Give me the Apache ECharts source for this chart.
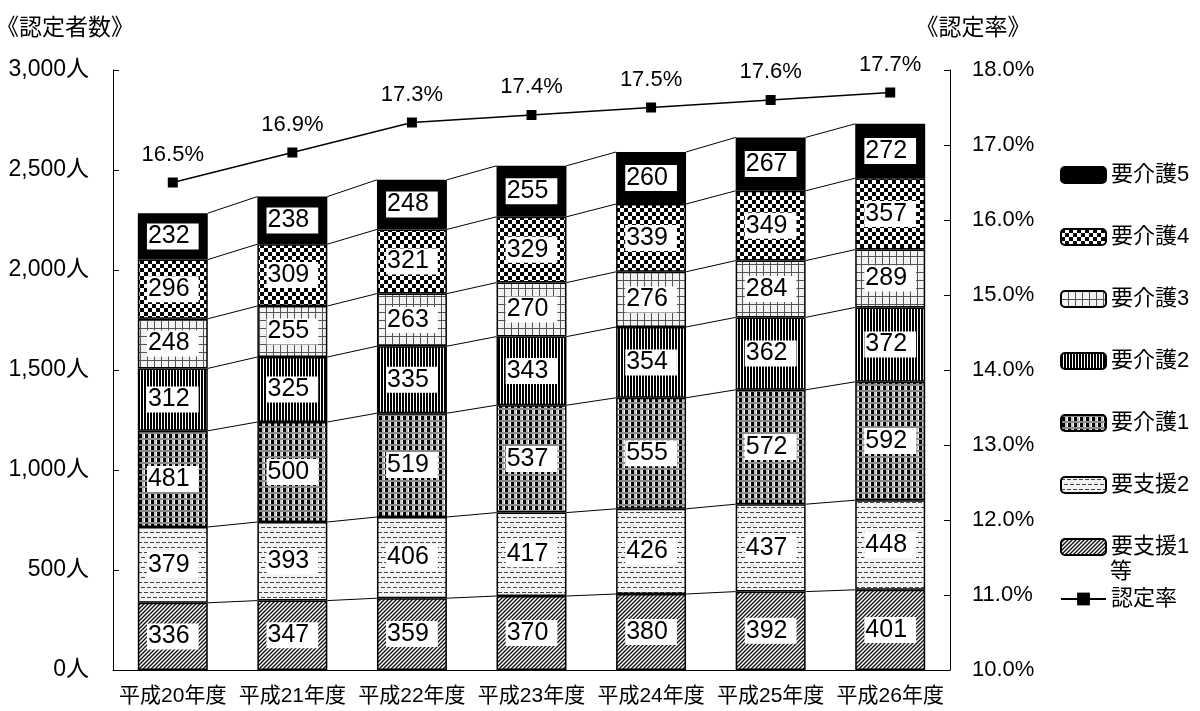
<!DOCTYPE html>
<html>
<head>
<meta charset="utf-8">
<script src="https://cdn.jsdelivr.net/npm/echarts@6/dist/echarts.min.js"></script>
<style>
  html, body { margin: 0; padding: 0; background: #fff; }
  #chart { width: 1200px; height: 711px; }
</style>
</head>
<body>
<div id="chart"></div>
<script>
// 年度
const categories = ['平成20年度', '平成21年度', '平成22年度', '平成23年度', '平成24年度', '平成25年度', '平成26年度'];

// 認定者数（人）
const shien1 = [336, 347, 359, 370, 380, 392, 401];
const shien2 = [379, 393, 406, 417, 426, 437, 448];
const kaigo1 = [481, 500, 519, 537, 555, 572, 592];
const kaigo2 = [312, 325, 335, 343, 354, 362, 372];
const kaigo3 = [248, 255, 263, 270, 276, 284, 289];
const kaigo4 = [296, 309, 321, 329, 339, 349, 357];
const kaigo5 = [232, 238, 248, 255, 260, 267, 272];

// 認定率（％）
const rate = [16.5, 16.9, 17.3, 17.4, 17.5, 17.6, 17.7];

const seriesNames = ['要支援1等', '要支援2', '要介護1', '要介護2', '要介護3', '要介護4', '要介護5'];
const stackValues = [shien1, shien2, kaigo1, kaigo2, kaigo3, kaigo4, kaigo5];

const NUM_FONT = '"Liberation Sans", Arial, "Noto Sans CJK JP", sans-serif';
const JP_FONT = '"Liberation Sans", Arial, "Noto Sans CJK JP", sans-serif';
const BAR_FRAC = 0.585;

// hatch fills drawn on small repeating canvases
function tile(w, h, draw) {
  const c = document.createElement('canvas');
  c.width = w; c.height = h;
  const g = c.getContext('2d');
  draw(g, w, h);
  return { image: c, repeat: 'repeat' };
}

const fills = [
  // 要支援1等: diagonal hatch
  tile(4, 4, (g) => {
    g.fillStyle = '#fff'; g.fillRect(0, 0, 4, 4);
    g.strokeStyle = '#111'; g.lineWidth = 1.4;
    g.beginPath();
    g.moveTo(-1, 5); g.lineTo(5, -1);
    g.moveTo(-1, 1); g.lineTo(1, -1);
    g.moveTo(3, 5); g.lineTo(5, 3);
    g.stroke();
  }),
  // 要支援2: dashed rows on a light ground
  tile(6, 10, (g) => {
    g.fillStyle = '#f3f3f3'; g.fillRect(0, 0, 6, 10);
    g.fillStyle = '#444';
    g.fillRect(0, 2, 4, 1);
    g.fillRect(3, 7, 3, 1); g.fillRect(0, 7, 1, 1);
  }),
  // 要介護1: black squares between grey bands
  tile(6, 6, (g) => {
    g.fillStyle = '#fff'; g.fillRect(0, 0, 6, 6);
    g.fillStyle = '#8a8a8a'; g.fillRect(0, 0, 6, 2);
    g.fillStyle = '#c4c4c4'; g.fillRect(4, 2, 2, 4);
    g.fillStyle = '#000'; g.fillRect(1, 2, 3, 4);
  }),
  // 要介護2: vertical stripes
  tile(3, 3, (g) => {
    g.fillStyle = '#fff'; g.fillRect(0, 0, 3, 3);
    g.fillStyle = '#000'; g.fillRect(0, 0, 2, 3);
  }),
  // 要介護3: thin grid
  tile(7, 8, (g) => {
    g.fillStyle = '#f2f2f2'; g.fillRect(0, 0, 7, 8);
    g.fillStyle = '#555';
    g.fillRect(0, 0, 1, 8);
    g.fillRect(0, 0, 7, 1);
  }),
  // 要介護4: checkerboard
  tile(8, 8, (g) => {
    g.fillStyle = '#fff'; g.fillRect(0, 0, 8, 8);
    g.fillStyle = '#000';
    g.fillRect(0, 0, 4, 4); g.fillRect(4, 4, 4, 4);
  }),
  // 要介護5: solid
  '#000'
];

const barSeries = seriesNames.map((name, k) => ({
  name: name,
  type: 'bar',
  stack: 'total',
  barWidth: (BAR_FRAC * 100) + '%',
  data: stackValues[k],
  itemStyle: { color: fills[k], borderColor: '#000', borderWidth: 1.5 },
  label: {
    show: true,
    position: 'inside',
    color: '#000',
    fontFamily: NUM_FONT,
    fontSize: 25,
    lineHeight: 25,
    backgroundColor: '#fff',
    padding: [1, 9, 0, 1]
  },
  z: 2
}));

// thin lines joining each stack boundary of neighbouring bars
const connectorSeries = {
  type: 'custom',
  silent: true,
  xAxisIndex: 0,
  yAxisIndex: 0,
  z: 3,
  data: categories.slice(0, -1).map((c, i) => [i, 0]),
  renderItem: (params, api) => {
    const i = params.dataIndex;
    const half = api.size([1, 0])[0] * BAR_FRAC / 2;
    const children = [];
    let a = 0, b = 0;
    stackValues.forEach((vals) => {
      a += vals[i]; b += vals[i + 1];
      const p1 = api.coord([i, a]);
      const p2 = api.coord([i + 1, b]);
      children.push({
        type: 'line',
        shape: { x1: p1[0] + half, y1: p1[1], x2: p2[0] - half, y2: p2[1] },
        style: { stroke: '#000', lineWidth: 1 }
      });
    });
    return { type: 'group', children: children };
  }
};

const rateSeries = {
  name: '認定率',
  type: 'line',
  yAxisIndex: 1,
  data: rate,
  symbol: 'rect',
  symbolSize: 10,
  itemStyle: { color: '#000' },
  lineStyle: { color: '#000', width: 1.5 },
  label: {
    show: true,
    position: 'top',
    distance: 12,
    color: '#000',
    fontFamily: NUM_FONT,
    fontSize: 22,
    formatter: (p) => p.value.toFixed(1) + '%'
  },
  z: 5
};

const legendText = { color: '#000', fontFamily: JP_FONT, fontSize: 22, lineHeight: 24 };

const option = {
  animation: false,
  backgroundColor: '#fff',
  grid: { left: 113, right: 250, top: 70, bottom: 41, containLabel: false, outerBoundsMode: 'none' },
  xAxis: {
    type: 'category',
    data: categories,
    boundaryGap: true,
    axisLine: { lineStyle: { color: '#000', width: 1 } },
    axisTick: { inside: true, length: 6, lineStyle: { color: '#000' } },
    axisLabel: { color: '#000', fontFamily: JP_FONT, fontSize: 21, margin: 16, interval: 0 }
  },
  yAxis: [
    {
      type: 'value',
      min: 0, max: 3000, interval: 500,
      name: '《認定者数》',
      nameLocation: 'end',
      nameGap: 30,
      nameTextStyle: { color: '#000', fontFamily: JP_FONT, fontSize: 23, padding: [0, 96, 0, 0] },
      axisLine: { show: true, lineStyle: { color: '#000', width: 1 } },
      axisTick: { show: true, inside: true, length: 6, lineStyle: { color: '#000' } },
      splitLine: { show: false },
      axisLabel: {
        color: '#000', fontFamily: NUM_FONT, fontSize: 23, margin: 24,
        formatter: (v) => v.toLocaleString('en-US') + '人'
      }
    },
    {
      type: 'value',
      min: 10, max: 18, interval: 1,
      name: '《認定率》',
      nameLocation: 'end',
      nameGap: 30,
      nameTextStyle: { color: '#000', fontFamily: JP_FONT, fontSize: 23, padding: [0, 0, 0, 46] },
      axisLine: { show: true, lineStyle: { color: '#000', width: 1 } },
      axisTick: { show: true, inside: true, length: 6, lineStyle: { color: '#000' } },
      splitLine: { show: false },
      axisLabel: {
        color: '#000', fontFamily: NUM_FONT, fontSize: 22, margin: 22,
        formatter: (v) => v.toFixed(1) + '%'
      }
    }
  ],
  legend: [
    {
      orient: 'vertical',
      left: 1055, top: 158,
      itemWidth: 45, itemHeight: 16, itemGap: 38,
      selectedMode: false,
      data: seriesNames.slice().reverse(),
      formatter: (n) => n === '要支援1等' ? '要支援1' : n,
      textStyle: legendText
    },
    {
      orient: 'vertical',
      left: 1055, top: 582,
      itemWidth: 45, itemHeight: 16,
      selectedMode: false,
      data: ['認定率'],
      textStyle: legendText
    }
  ],
  graphic: [
    {
      type: 'text',
      left: 1110, top: 559,
      style: { text: '等', fill: '#000', font: '22px "Noto Sans CJK JP", sans-serif' }
    }
  ],
  series: barSeries.concat([connectorSeries, rateSeries])
};

const chart = echarts.init(document.getElementById('chart'), null, { renderer: 'canvas' });
chart.setOption(option);
</script>
</body>
</html>
